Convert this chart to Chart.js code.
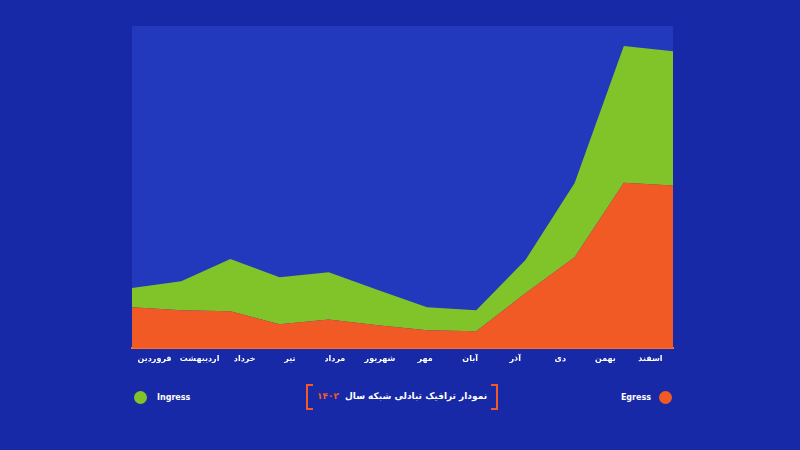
<!DOCTYPE html>
<html lang="fa">
<head>
<meta charset="utf-8">
<style>
  html, body { margin: 0; padding: 0; background: #1729a6; }
  #wrap { position: relative; width: 800px; height: 450px; overflow: hidden; }
  #box { position: absolute; left: 0; top: 0; width: 800px; height: 370px; }
  .foot { position: absolute; top: 386px; height: 22px; display: flex; align-items: center;
          font-family: "DejaVu Sans", sans-serif; font-size: 8px; font-weight: bold; color: #fff; }
  .dot { width: 13px; height: 13px; border-radius: 50%; display: inline-block; }
  #legIn { left: 134px; }
  #legIn .dot { margin-right: 10px; }
  #legOut { right: 128px; }
  #legOut .dot { margin-left: 8px; }
  #title { left: 306px; width: 192px; justify-content: center; direction: rtl; font-size: 9px;
           height: 24px; top: 384px; }
  .br { position: absolute; top: 0; width: 5px; height: 22px; border-top: 2px solid #f15a24; border-bottom: 2px solid #f15a24; }
  #title .year { color: #f15a24; margin-right: 6px; }
</style>
</head>
<body>
<div id="wrap">
  <div id="box"><canvas id="trafficChart"></canvas></div>
  <div class="foot" id="legIn"><span class="dot"></span><span class="txt"></span></div>
  <div class="foot" id="title">
    <span class="br" style="right:0;border-right:2px solid #f15a24"></span><span class="br" style="left:0;border-left:2px solid #f15a24"></span>
    <span>نمودار ترافیک تبادلی شبکه سال</span><span class="year">۱۴۰۲</span>
  </div>
  <div class="foot" id="legOut"><span class="txt"></span><span class="dot"></span></div>
</div>
<script src="https://cdn.jsdelivr.net/npm/chart.js"></script>
<script>
const months = ["فروردین", "اردیبهشت", "خرداد", "تیر", "مرداد", "شهریور", "مهر", "آبان", "آذر", "دی", "بهمن", "اسفند"];
const egress = [12.8, 11.8, 11.5, 7.5, 9.0, 7.2, 5.6, 5.3, 17.1, 28.3, 51.4, 50.5];
const ingress = [5.9, 9.0, 16.2, 14.6, 14.6, 10.9, 7.2, 6.5, 10.3, 23.0, 42.4, 41.7];

const plotBg = {
  id: "plotBg",
  beforeDraw(chart) {
    const a = chart.chartArea;
    const c = chart.ctx;
    c.save();
    c.fillStyle = "#2239bd";
    c.fillRect(a.left, a.top, a.right - a.left, a.bottom - a.top);
    c.restore();
  }
};

const ctx = document.getElementById("trafficChart").getContext("2d");
const chart = new Chart(ctx, {
  type: "line",
  data: {
    labels: months,
    datasets: [
      {
        label: "Egress",
        data: egress,
        backgroundColor: "#f15a24",
        borderWidth: 0,
        pointRadius: 0,
        fill: "origin"
      },
      {
        label: "Ingress",
        data: ingress,
        backgroundColor: "#80c42a",
        borderWidth: 0,
        pointRadius: 0,
        fill: "-1"
      }
    ]
  },
  options: {
    responsive: true,
    maintainAspectRatio: false,
    animation: false,
    layout: { padding: { left: 132, right: 127, top: 26, bottom: 0 } },
    plugins: { legend: { display: false }, tooltip: { enabled: false } },
    elements: { line: { tension: 0 } },
    scales: {
      x: { display: false, offset: false },
      x2: {
        type: "category",
        labels: months,
        position: "bottom",
        offset: true,
        grid: { display: false, drawTicks: false },
        border: { display: true, color: "#f7772a", width: 2 },
        ticks: {
          color: "#ffffff",
          padding: 6,
          maxRotation: 0,
          autoSkip: false,
          font: { family: "DejaVu Sans", size: 8, weight: "bold" }
        }
      },
      y: { display: false, stacked: true, min: 0, max: 100 }
    }
  },
  plugins: [plotBg]
});

// html legend from dataset labels
document.querySelector("#legIn .txt").textContent = chart.data.datasets[1].label;
document.querySelector("#legIn .dot").style.background = chart.data.datasets[1].backgroundColor;
document.querySelector("#legOut .txt").textContent = chart.data.datasets[0].label;
document.querySelector("#legOut .dot").style.background = chart.data.datasets[0].backgroundColor;
</script>
</body>
</html>
